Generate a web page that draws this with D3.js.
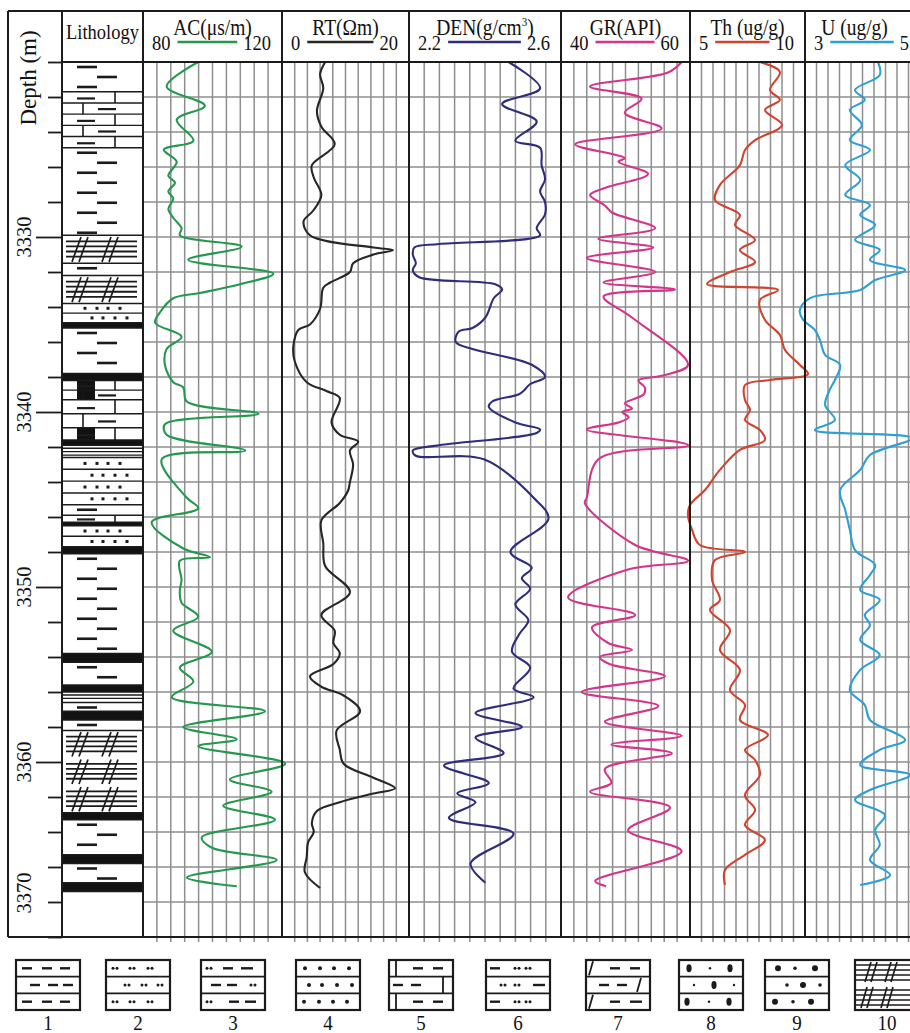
<!DOCTYPE html>
<html>
<head>
<meta charset="utf-8">
<title>Well log</title>
<script src="https://cdn.jsdelivr.net/npm/d3@7/dist/d3.min.js"></script>
<style>
  html,body{margin:0;padding:0;background:#fff;}
  svg{display:block;}
  text{font-family:"Liberation Serif","Times New Roman",Times,serif;fill:#111;}
</style>
</head>
<body>
<svg id="chart" width="910" height="1033"></svg>
<script>
// ---------------- data ----------------
const depthTop = 3320, depthBase = 3370;
const depthLabels = [3330, 3340, 3350, 3360, 3370];
const trackTitles = ["AC(μs/m)", "RT(Ωm)", "DEN(g/cm³)", "GR(API)", "Th (ug/g)", "U (ug/g)"];
const scaleMin = [80, 0, 2.2, 40, 5, 3];
const scaleMax = [120, 20, 2.6, 60, 10, 5];
const scaleLabels = [["80","120"],["0","20"],["2.2","2.6"],["40","60"],["5","10"],["3","5"]];
const curveColors = ["#22994c", "#262626", "#2f2c7c", "#d6338a", "#d2432f", "#2c9fd4"];

// [depth (m), value]
const AC = [[3320.0,95.9],[3321.4,86.8],[3322.5,97.8],[3323.3,89.7],[3324.5,94.5],[3325.0,86.0],[3325.7,89.7],[3326.5,87.3],[3326.9,89.2],[3327.4,87.3],[3327.8,88.7],[3328.4,87.3],[3328.9,88.7],[3329.5,91.1],[3329.9,90.6],[3330.55,108.4],[3331.3,93.0],[3332.1,117.5],[3332.7,107.9],[3333.2,96.4],[3333.5,88.7],[3334.3,84.9],[3334.9,83.5],[3335.7,91.1],[3336.4,86.8],[3337.3,86.3],[3338.3,88.7],[3338.6,91.6],[3339.4,92.6],[3340.1,113.2],[3340.7,86.3],[3341.3,86.8],[3342.2,109.4],[3342.7,85.4],[3344.9,92.6],[3345.5,95.9],[3346.3,82.5],[3347.8,91.6],[3348.3,99.3],[3348.5,90.6],[3349.6,91.1],[3350.2,90.6],[3350.9,91.1],[3351.7,95.9],[3352.5,88.7],[3353.7,99.8],[3354.6,90.6],[3355.4,94.5],[3356.3,88.3],[3357.1,115.1],[3358.0,91.6],[3358.7,107.0],[3359.1,95.9],[3360.1,120.9],[3361.0,105.0],[3361.7,117.0],[3362.5,103.1],[3363.3,118.0],[3364.3,96.9],[3364.9,99.8],[3365.6,118.5],[3366.6,92.6],[3367.1,107.0]];
const RT = [[3320.0,6.8],[3320.7,6.0],[3321.5,6.5],[3322.8,5.5],[3323.7,6.2],[3324.7,8.3],[3325.9,4.7],[3326.6,5.0],[3327.6,6.2],[3328.5,4.9],[3329.1,3.4],[3329.9,4.4],[3330.6,14.4],[3330.75,17.5],[3331.0,14.4],[3331.5,11.2],[3332.0,10.7],[3332.6,7.6],[3332.9,6.5],[3334.1,6.0],[3335.0,4.4],[3335.3,2.6],[3336.2,1.8],[3337.1,2.0],[3338.3,3.9],[3338.8,7.0],[3339.2,9.1],[3340.6,7.8],[3341.3,9.1],[3341.7,12.0],[3342.2,10.7],[3343.0,11.2],[3344.0,10.7],[3344.5,10.4],[3345.2,9.1],[3346.2,6.2],[3347.5,6.5],[3348.8,6.8],[3350.3,10.7],[3351.6,6.2],[3352.5,8.3],[3353.2,8.1],[3353.8,9.1],[3354.4,8.1],[3355.1,4.4],[3355.7,6.2],[3356.2,9.7],[3357.1,12.3],[3358.2,8.6],[3359.3,9.1],[3360.1,9.7],[3360.9,14.4],[3361.5,17.8],[3361.8,14.4],[3362.3,9.1],[3362.8,5.5],[3363.5,4.7],[3364.0,5.0],[3364.6,4.1],[3365.4,3.9],[3366.3,3.6],[3367.2,6.0]];
const DEN = [[3320.0,2.462],[3321.5,2.545],[3322.4,2.445],[3323.4,2.536],[3324.5,2.480],[3324.9,2.545],[3325.9,2.549],[3326.7,2.558],[3327.4,2.545],[3328.0,2.558],[3328.7,2.558],[3329.5,2.536],[3329.9,2.545],[3330.4,2.279],[3330.6,2.214],[3331.0,2.210],[3331.5,2.218],[3331.9,2.210],[3332.3,2.227],[3332.7,2.427],[3333.0,2.445],[3333.5,2.423],[3334.6,2.401],[3335.2,2.367],[3335.4,2.331],[3336.0,2.323],[3336.4,2.367],[3337.3,2.523],[3338.0,2.558],[3338.4,2.519],[3338.8,2.501],[3339.0,2.488],[3339.4,2.419],[3339.7,2.410],[3340.6,2.480],[3341.0,2.545],[3341.2,2.536],[3341.9,2.279],[3342.2,2.210],[3342.5,2.218],[3342.7,2.397],[3344.9,2.528],[3346.1,2.567],[3348.0,2.467],[3348.9,2.523],[3349.5,2.497],[3350.1,2.519],[3351.0,2.480],[3351.9,2.514],[3352.7,2.490],[3353.7,2.471],[3354.6,2.519],[3355.8,2.475],[3356.3,2.528],[3357.2,2.375],[3358.0,2.497],[3358.6,2.375],[3359.5,2.449],[3360.2,2.292],[3361.2,2.410],[3361.8,2.327],[3362.3,2.375],[3363.2,2.305],[3364.1,2.475],[3365.8,2.362],[3366.9,2.401]];
const GR = [[3320.0,58.7],[3320.6,56.6],[3321.4,44.5],[3322.1,52.5],[3322.9,49.9],[3323.8,55.6],[3324.7,42.2],[3325.3,48.4],[3325.5,49.9],[3325.7,48.9],[3326.4,53.5],[3327.2,46.8],[3327.6,44.5],[3328.2,46.8],[3328.6,47.9],[3329.5,54.6],[3330.1,45.8],[3330.6,54.3],[3331.2,44.0],[3332.0,54.6],[3332.6,46.6],[3333.0,57.7],[3333.4,46.6],[3334.6,51.0],[3337.3,59.7],[3337.9,56.0],[3338.2,52.0],[3338.6,53.0],[3339.0,52.8],[3339.5,49.9],[3339.8,51.0],[3340.0,49.5],[3340.3,50.5],[3340.6,48.9],[3341.0,44.0],[3341.9,59.7],[3342.7,45.8],[3344.9,44.0],[3345.2,43.7],[3347.6,51.5],[3348.5,59.7],[3349.0,50.4],[3350.6,41.1],[3351.6,51.5],[3352.3,44.8],[3353.2,47.3],[3353.6,51.0],[3354.0,46.0],[3354.4,47.5],[3355.1,56.1],[3356.0,43.2],[3356.8,55.1],[3357.7,46.8],[3358.5,58.7],[3359.0,47.8],[3359.5,57.2],[3360.4,46.8],[3361.2,47.8],[3361.7,44.5],[3362.6,56.9],[3363.9,50.4],[3365.1,58.7],[3366.8,45.3],[3367.1,47.0]];
const TH = [[3320.0,8.04],[3320.57,8.91],[3321.6,8.48],[3322.17,8.91],[3322.74,8.26],[3323.6,9.0],[3324.46,7.83],[3325.03,7.39],[3325.89,7.17],[3327.03,6.30],[3327.89,6.09],[3328.74,7.17],[3329.31,6.96],[3330.17,7.83],[3330.74,7.17],[3331.43,7.83],[3332.0,6.74],[3332.69,5.74],[3333.03,8.83],[3333.6,8.04],[3334.74,8.26],[3335.6,8.91],[3336.46,9.13],[3337.31,9.78],[3337.83,10.13],[3338.17,8.48],[3338.46,7.39],[3339.31,7.39],[3339.89,7.61],[3340.46,7.39],[3341.03,8.04],[3341.6,8.26],[3342.17,7.17],[3343.31,6.30],[3344.46,5.65],[3345.31,5.0],[3345.89,4.91],[3346.74,5.09],[3347.6,5.43],[3348.0,7.39],[3348.46,6.09],[3349.6,5.96],[3350.74,6.30],[3351.31,5.87],[3352.46,6.74],[3353.6,6.30],[3354.74,7.17],[3355.89,6.74],[3356.74,7.39],[3357.6,7.17],[3358.46,8.39],[3359.31,7.39],[3359.89,7.83],[3360.74,8.04],[3361.89,7.39],[3362.74,7.83],[3363.6,7.39],[3364.46,8.26],[3365.31,7.39],[3366.17,6.52],[3367.03,6.52]];
const U = [[3320.0,4.27],[3320.74,4.30],[3321.6,3.87],[3322.17,4.04],[3322.74,3.78],[3323.6,3.99],[3324.46,3.78],[3325.03,4.13],[3325.89,3.70],[3326.74,3.96],[3327.6,3.70],[3328.17,4.13],[3328.74,3.96],[3329.31,4.22],[3330.17,3.87],[3330.74,4.30],[3331.31,4.13],[3331.89,4.74],[3332.46,4.22],[3333.03,3.96],[3333.49,3.09],[3334.17,2.91],[3334.74,2.97],[3335.31,3.17],[3335.89,3.26],[3336.74,3.35],[3337.31,3.61],[3338.17,3.52],[3338.74,3.43],[3339.6,3.35],[3340.46,3.52],[3341.03,3.17],[3341.49,4.86],[3342.46,4.13],[3343.31,3.96],[3344.46,3.61],[3345.6,3.70],[3346.74,3.78],[3347.89,3.87],[3348.74,4.22],[3349.31,4.13],[3350.17,3.96],[3350.74,4.30],[3351.6,4.04],[3352.17,4.13],[3353.03,3.96],[3353.89,4.30],[3354.74,3.96],[3355.89,3.78],[3356.74,4.04],[3357.6,4.13],[3358.74,4.74],[3359.31,4.30],[3360.17,3.96],[3360.74,4.83],[3361.6,4.13],[3362.17,3.87],[3363.03,4.39],[3363.89,4.22],[3364.74,4.30],[3365.6,4.13],[3366.46,4.48],[3367.03,3.96]];
const curves = [AC, RT, DEN, GR, TH, U];

// lithology intervals: [top, base, type]
const lithology = [
  [3320.0,3321.7,"mud"],[3321.7,3324.9,"brick"],[3324.9,3329.9,"mud"],[3329.9,3331.5,"hatch"],
  [3331.5,3332.2,"mud"],[3332.2,3333.8,"hatch"],[3333.8,3334.9,"sand"],[3334.9,3335.2,"coal"],
  [3335.2,3337.8,"mud"],[3337.8,3338.2,"coal"],[3338.2,3339.3,"brickcoal"],[3339.3,3340.9,"brick"],
  [3340.9,3341.6,"brickcoal"],[3341.6,3341.9,"coal"],[3341.9,3342.6,"lines"],[3342.6,3345.3,"sand"],
  [3345.3,3345.9,"mud"],[3345.9,3346.3,"brick"],[3346.3,3346.5,"coal"],[3346.5,3347.7,"sand"],
  [3347.7,3348.1,"coal"],[3348.1,3353.8,"mud"],[3353.8,3354.3,"coal"],[3354.3,3355.6,"mud"],
  [3355.6,3356.0,"coal"],[3356.0,3356.6,"lines"],[3356.6,3357.1,"mud"],[3357.1,3357.6,"coal"],
  [3357.6,3358.2,"mud"],[3358.2,3362.9,"hatch"],[3362.9,3363.3,"coal"],[3363.3,3365.3,"mud"],
  [3365.3,3365.8,"coal"],[3365.8,3366.9,"mud"],[3366.9,3367.4,"coal"],[3367.4,3370.0,"blank"]
];
const legendLabels = ["1","2","3","4","5","6","7","8","9","10"];

// ---------------- layout ----------------
const svg = d3.select("#chart");
const FRAME_L = 8, FRAME_T = 11, HEAD_B = 62, PLOT_B = 937, RIGHT = 910;
const DEPTH_R = 62, LITH_R = 143;
const trackEdges = [143, 282, 409, 561, 690, 805, 920];
const ink = "#1b1b1b", gridCol = "#8e8e8e";

const y = d3.scaleLinear().domain([depthTop, depthBase]).range([HEAD_B, PLOT_B]);
const xs = trackTitles.map((t, i) =>
  d3.scaleLinear().domain([scaleMin[i], scaleMax[i]]).range([trackEdges[i], trackEdges[i + 1]]));

// ---------- grid ----------
const grid = svg.append("g").attr("class", "grid");
xs.forEach((x, i) => {
  const vals = d3.range(1, 10).map(k => scaleMin[i] + k * (scaleMax[i] - scaleMin[i]) / 10);
  grid.selectAll(null).data(vals).join("line")
    .attr("x1", d => x(d)).attr("x2", d => x(d))
    .attr("y1", HEAD_B).attr("y2", PLOT_B + 5)
    .attr("stroke", gridCol).attr("stroke-width", 1.5);
});
const gridDepths = d3.range(depthTop + 2, depthBase, 2);
grid.selectAll(null).data(gridDepths).join("line")
  .attr("x1", LITH_R).attr("x2", RIGHT)
  .attr("y1", d => y(d)).attr("y2", d => y(d))
  .attr("stroke", gridCol).attr("stroke-width", 1.6);

// ---------- lithology column ----------
const lith = svg.append("g").attr("class", "lithology");
const LX0 = DEPTH_R, LX1 = LITH_R;
function hline(g, yy, x0 = LX0, x1 = LX1, w = 1.4) {
  g.append("line").attr("x1", x0).attr("x2", x1).attr("y1", yy).attr("y2", yy)
    .attr("stroke", ink).attr("stroke-width", w);
}
function seg(g, x0, y0, x1, y1, w = 2) {
  g.append("line").attr("x1", x0).attr("y1", y0).attr("x2", x1).attr("y2", y1)
    .attr("stroke", ink).attr("stroke-width", w);
}
function drawLayer(g, type, y0, y1) {
  const h = y1 - y0;
  if (type === "coal") {
    g.append("rect").attr("x", LX0).attr("y", y0).attr("width", LX1 - LX0).attr("height", h).attr("fill", "#121212");
  } else if (type === "mud") {
    for (let k = 0, yy = y0 + 5; yy < y1 - 2; k++, yy += 10) {
      if (k % 2 === 0) seg(g, 77, yy, 97, yy, 2.6); else seg(g, 97, yy, 117, yy, 2.6);
    }
  } else if (type === "sand") {
    const n = Math.max(1, Math.round(h / 11)), rh = h / n;
    for (let k = 0; k < n; k++) {
      const ry = y0 + k * rh;
      if (k > 0) hline(g, ry);
      const xsDots = k % 2 === 0 ? [85, 97, 108, 120] : [92, 103, 115, 127];
      xsDots.forEach(dx => g.append("rect").attr("x", dx - 1.5).attr("y", ry + rh / 2 - 1.5)
        .attr("width", 3).attr("height", 3).attr("fill", ink));
    }
  } else if (type === "brick" || type === "brickcoal") {
    const n = Math.max(1, Math.round(h / 12)), rh = h / n;
    if (type === "brickcoal") g.append("rect").attr("x", 77).attr("y", y0).attr("width", 18).attr("height", h).attr("fill", "#121212");
    for (let k = 0; k < n; k++) {
      const ry = y0 + k * rh;
      if (k > 0) hline(g, ry);
      const vx = k % 2 === 0 ? 115 : 83;
      seg(g, vx, ry, vx, ry + rh, 1.6);
      if (k % 2 === 0) seg(g, 77, ry + rh * 0.6, 95, ry + rh * 0.6, 2.2);
      else seg(g, 98, ry + rh * 0.55, 116, ry + rh * 0.55, 2.2);
    }
  } else if (type === "hatch") {
    const n = Math.max(1, Math.round(h / 27)), gh = h / n;
    for (let k = 0; k < n; k++) {
      const gy = y0 + k * gh;
      [0.22, 0.4, 0.58, 0.76].forEach(f => hline(g, gy + gh * f, 66, 137, 1.8));
      [72, 102].forEach(hx => {
        seg(g, hx, gy + gh * 0.95, hx + 9, gy + gh * 0.06, 1.7);
        seg(g, hx + 7, gy + gh * 0.95, hx + 16, gy + gh * 0.06, 1.7);
      });
    }
  } else if (type === "lines") {
    for (let yy = y0 + 3; yy < y1 - 1; yy += 3.4) hline(g, yy, LX0, LX1, 1.3);
  }
}
lithology.forEach(([t, b, type], i) => {
  const g = lith.append("g");
  drawLayer(g, type, y(t), y(b));
  if (i > 0) hline(lith, y(t));
});

// ---------- curves ----------
const curveG = svg.append("g").attr("class", "curves");
curves.forEach((data, i) => {
  const line = d3.line()
    .x(p => xs[i](p[1]))
    .y(p => y(p[0]))
    .curve(d3.curveCatmullRom.alpha(0.5));
  curveG.append("path").datum(data)
    .attr("d", line)
    .attr("fill", "none")
    .attr("stroke", curveColors[i])
    .attr("stroke-width", 2.1)
    .attr("stroke-linejoin", "round");
});

// ---------- frame ----------
const frame = svg.append("g").attr("class", "frame");
hline(frame, FRAME_T, FRAME_L, RIGHT, 2);
hline(frame, HEAD_B, DEPTH_R, RIGHT, 2);
hline(frame, PLOT_B, FRAME_L, RIGHT, 2);
[FRAME_L, DEPTH_R, ...trackEdges.slice(0, -1)].forEach(xv =>
  seg(frame, xv, FRAME_T, xv, PLOT_B, 2));

// depth axis ticks
const depthAxis = d3.axisLeft(y)
  .tickValues(d3.range(depthTop, depthBase + 0.1, 2))
  .tickSize(14).tickFormat("");
const axG = svg.append("g").attr("transform", `translate(${DEPTH_R},0)`).call(depthAxis);
axG.select(".domain").remove();
axG.selectAll(".tick line").attr("stroke", ink).attr("stroke-width", 1.8)
  .attr("x2", d => (d % 10 === 0 && d > depthTop && d < depthBase) ? -26 : -14);

// depth labels
svg.append("g").selectAll(null).data(depthLabels).join("text")
  .attr("transform", d => `translate(31,${Math.min(y(d), PLOT_B - 44)}) rotate(-90)`)
  .attr("text-anchor", "middle").attr("font-size", 20.5)
  .text(d => d);
svg.append("text")
  .attr("transform", "translate(36,78) rotate(-90)")
  .attr("text-anchor", "middle").attr("font-size", 23)
  .text("Depth (m)");

// ---------- header ----------
const head = svg.append("g").attr("class", "header");
function stretched(g, x, yy, anchor, size) {
  return g.append("text").attr("transform", `translate(${x},${yy}) scale(1,1.15)`)
    .attr("text-anchor", anchor).attr("font-size", size);
}
stretched(head, (DEPTH_R + LITH_R) / 2, 39, "middle", 18.5).text("Lithology");
trackTitles.forEach((title, i) => {
  const x0 = trackEdges[i], x1 = trackEdges[i + 1];
  const cx = (x0 + x1) / 2 - (i === 5 ? 8 : 0);
  const t = stretched(head, cx, 35, "middle", 19.5);
  if (title.includes("³")) {
    const parts = title.split("³");
    t.append("tspan").text(parts[0]);
    t.append("tspan").attr("font-size", 11).attr("dy", -8).text("3");
    t.append("tspan").attr("dy", 8).text(parts[1]);
  } else t.text(title);
  const lo = stretched(head, x0 + 9, 49.5, "start", 18.5).text(scaleLabels[i][0]);
  const hiX = i === 5 ? 909 : x1 - 11;
  const hi = stretched(head, hiX, 49.5, "end", 18.5).text(scaleLabels[i][1]);
  const loEnd = x0 + 9 + lo.node().getComputedTextLength();
  const hiStart = hiX - hi.node().getComputedTextLength();
  head.append("line").attr("x1", loEnd + 7).attr("x2", hiStart - 6)
    .attr("y1", 42).attr("y2", 42)
    .attr("stroke", curveColors[i]).attr("stroke-width", 2.6);
});

// ---------- legend ----------
const legendLeft = [16, 106, 201, 296, 389, 486, 586, 679, 765, 855];
const BW = 64, BH = 50, BY = 960;
const leg = svg.append("g").attr("class", "legend");
function ldash(g, a, b, cy) { seg(g, a, cy, b, cy, 2.4); }
function loo(g, cx, cy) {
  [-2, 2].forEach(o => g.append("circle").attr("cx", cx + o).attr("cy", cy).attr("r", 1.5).attr("fill", ink));
}
function ldot(g, cx, cy, r) { g.append("circle").attr("cx", cx).attr("cy", cy).attr("r", r).attr("fill", ink); }
function lslant(g, x, cy) { seg(g, x, cy + 7, x + 4, cy - 7, 1.8); }
const rowY = [8.3, 25, 41.7];
const legendDraw = [
  g => { [[6,16,26,36,44,54],[14,24,32,42,47,57],[6,16,26,36,44,54]].forEach((r, k) => { for (let j = 0; j < 6; j += 2) ldash(g, r[j], r[j+1], rowY[k]); }); },
  g => { [[9,26,44],[21,38,54],[9,26,44]].forEach((r, k) => r.forEach(cx => loo(g, cx, rowY[k]))); },
  g => { loo(g, 8, rowY[0]); ldash(g, 22, 32, rowY[0]); ldash(g, 40, 52, rowY[0]);
         ldash(g, 10, 20, rowY[1]); ldash(g, 26, 36, rowY[1]); loo(g, 52, rowY[1]);
         loo(g, 8, rowY[2]); ldash(g, 28, 38, rowY[2]); ldash(g, 44, 55, rowY[2]); },
  g => { [[9,24,38,53],[13,26,41,56],[8,23,37,51]].forEach((r, k) => r.forEach(cx => ldot(g, cx, rowY[k], 2))); },
  g => { seg(g, 7, 0, 7, 16.7, 1.8); ldash(g, 24, 34, rowY[0]); ldash(g, 44, 54, rowY[0]);
         ldash(g, 4, 14, rowY[1]); ldash(g, 22, 32, rowY[1]); seg(g, 54, 16.7, 54, 33.3, 1.8);
         seg(g, 7, 33.3, 7, 50, 1.8); ldash(g, 24, 34, rowY[2]); ldash(g, 44, 54, rowY[2]); },
  g => { ldash(g, 4, 14, rowY[0]); loo(g, 31, rowY[0]); loo(g, 42, rowY[0]);
         loo(g, 17, rowY[1]); loo(g, 31, rowY[1]); ldash(g, 47, 59, rowY[1]);
         ldash(g, 4, 14, rowY[2]); loo(g, 31, rowY[2]); loo(g, 42, rowY[2]); },
  g => { lslant(g, 3, rowY[0]); ldash(g, 24, 34, rowY[0]); ldash(g, 44, 54, rowY[0]);
         ldash(g, 13, 23, rowY[1]); ldash(g, 31, 41, rowY[1]); lslant(g, 51, rowY[1]);
         lslant(g, 3, rowY[2]); ldash(g, 24, 34, rowY[2]); ldash(g, 44, 56, rowY[2]); },
  g => { const ov = (cx, cy) => g.append("ellipse").attr("cx", cx).attr("cy", cy).attr("rx", 2.6).attr("ry", 4).attr("fill", ink);
         ov(10, rowY[0]); ldot(g, 31, rowY[0], 1.2); ov(51, rowY[0]);
         ldot(g, 15, rowY[1], 1.2); ov(35, rowY[1]); ldot(g, 55, rowY[1], 1.2);
         ov(8, rowY[2]); ldot(g, 30, rowY[2], 1.2); ov(50, rowY[2]); },
  g => { ldot(g, 13, rowY[0], 3); ldot(g, 30, rowY[0], 1.8); ldot(g, 50, rowY[0], 3);
         ldot(g, 22, rowY[1], 1.8); ldot(g, 38, rowY[1], 3); ldot(g, 55, rowY[1], 1.8);
         ldot(g, 10, rowY[2], 3); ldot(g, 28, rowY[2], 1.8); ldot(g, 46, rowY[2], 3); },
  g => { [5, 10, 15, 20, 30, 35, 40, 45].forEach(yy => seg(g, 0, yy, BW, yy, 1.6));
         [[10, 2, 22], [30, 2, 22], [6, 27, 48], [26, 27, 48]].forEach(([hx, ya, yb]) => {
           seg(g, hx, yb, hx + 6, ya, 1.7); seg(g, hx + 6, yb, hx + 12, ya, 1.7); }); }
];
legendLabels.forEach((lab, i) => {
  const g = leg.append("g").attr("transform", `translate(${legendLeft[i]},${BY})`);
  g.append("rect").attr("width", BW).attr("height", BH).attr("fill", "#fff")
    .attr("stroke", ink).attr("stroke-width", 2.2);
  if (i !== 9) { seg(g, 0, 16.7, BW, 16.7, 1.8); seg(g, 0, 33.3, BW, 33.3, 1.8); }
  legendDraw[i](g);
  stretched(leg, legendLeft[i] + BW / 2, 1030, "middle", 19).text(lab);
});
</script>
</body>
</html>
